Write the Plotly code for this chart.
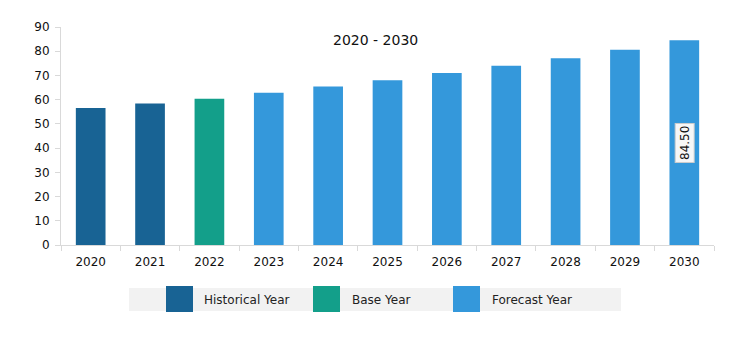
import plotly.graph_objects as go

years = ["2020", "2021", "2022", "2023", "2024", "2025", "2026", "2027", "2028", "2029", "2030"]
values = [56.6, 58.4, 60.4, 62.9, 65.4, 68.0, 71.0, 74.0, 77.1, 80.6, 84.5]
kinds = ["Historical Year", "Historical Year", "Base Year"] + ["Forecast Year"] * 8
colors_map = {"Historical Year": "#186394", "Base Year": "#139F8A", "Forecast Year": "#3498DB"}
legend_items = ["Historical Year", "Base Year", "Forecast Year"]
title_text = "2020 - 2030"
label_value = "84.50"

W, H = 753, 360
L, R, T, B = 61, 39, 27, 115
pw, ph = W - L - R, H - T - B

def fx(px):
    return (px - L) / pw

def fy(py):
    return (H - B - py) / ph

fig = go.Figure()
fig.add_trace(go.Bar(
    x=years, y=values,
    marker=dict(color=[colors_map[k] for k in kinds], line=dict(width=0)),
    width=0.5, showlegend=False, hoverinfo="x+y",
))

font = "DejaVu Sans, Verdana, sans-serif"

fig.add_annotation(x=len(years) - 1, y=values[-1] / 2, xref="x", yref="y",
                   text=label_value, textangle=-90, showarrow=False,
                   xanchor="center", yanchor="middle",
                   font=dict(family=font, size=12, color="#111"),
                   bgcolor="#f7f7f7", bordercolor="#cccccc", borderwidth=1, borderpad=2)

fig.add_annotation(x=fx(375), y=fy(39.5), xref="paper", yref="paper",
                   text=title_text, showarrow=False, xanchor="center", yanchor="middle",
                   font=dict(family=font, size=14, color="#111"))

# legend drawn manually
shapes = [dict(type="rect", xref="paper", yref="paper",
               x0=fx(129), x1=fx(621), y0=fy(311), y1=fy(288),
               fillcolor="#f2f2f2", line=dict(width=0), layer="below")]
sq_x = [166, 313, 453]
txt_x = [202, 350, 490]
for name, sx, tx in zip(legend_items, sq_x, txt_x):
    shapes.append(dict(type="rect", xref="paper", yref="paper",
                       x0=fx(sx), x1=fx(sx + 27), y0=fy(312), y1=fy(286),
                       fillcolor=colors_map[name], line=dict(width=0)))
    fig.add_annotation(x=fx(tx), y=fy(299.5), xref="paper", yref="paper",
                       text=name, showarrow=False, xanchor="left", yanchor="middle",
                       font=dict(family=font, size=12, color="#222"))

fig.update_layout(
    width=W, height=H,
    margin=dict(l=L, r=R, t=T, b=B, pad=0),
    paper_bgcolor="white", plot_bgcolor="white",
    shapes=shapes,
    font=dict(family=font, size=12, color="#222"),
)
fig.update_xaxes(type="category", showline=True, linecolor="#d9d9d9", linewidth=1,
                 ticks="outside", tickson="boundaries", ticklen=5, tickcolor="#d9d9d9",
                 showgrid=False, automargin=False, tickangle=0, ticklabelstandoff=6,
                 tickfont=dict(family=font, size=12, color="#111"))
fig.update_yaxes(range=[0, 90], dtick=10, showline=True, linecolor="#d9d9d9", linewidth=1,
                 ticks="outside", ticklen=5, tickcolor="#d9d9d9", showgrid=False, zeroline=False,
                 automargin=False, ticklabelstandoff=3,
                 tickfont=dict(family=font, size=12, color="#111"))

fig.write_html("out.html", config={"displayModeBar": False},
               post_script="document.body.style.margin='0';document.body.style.padding='0';")
